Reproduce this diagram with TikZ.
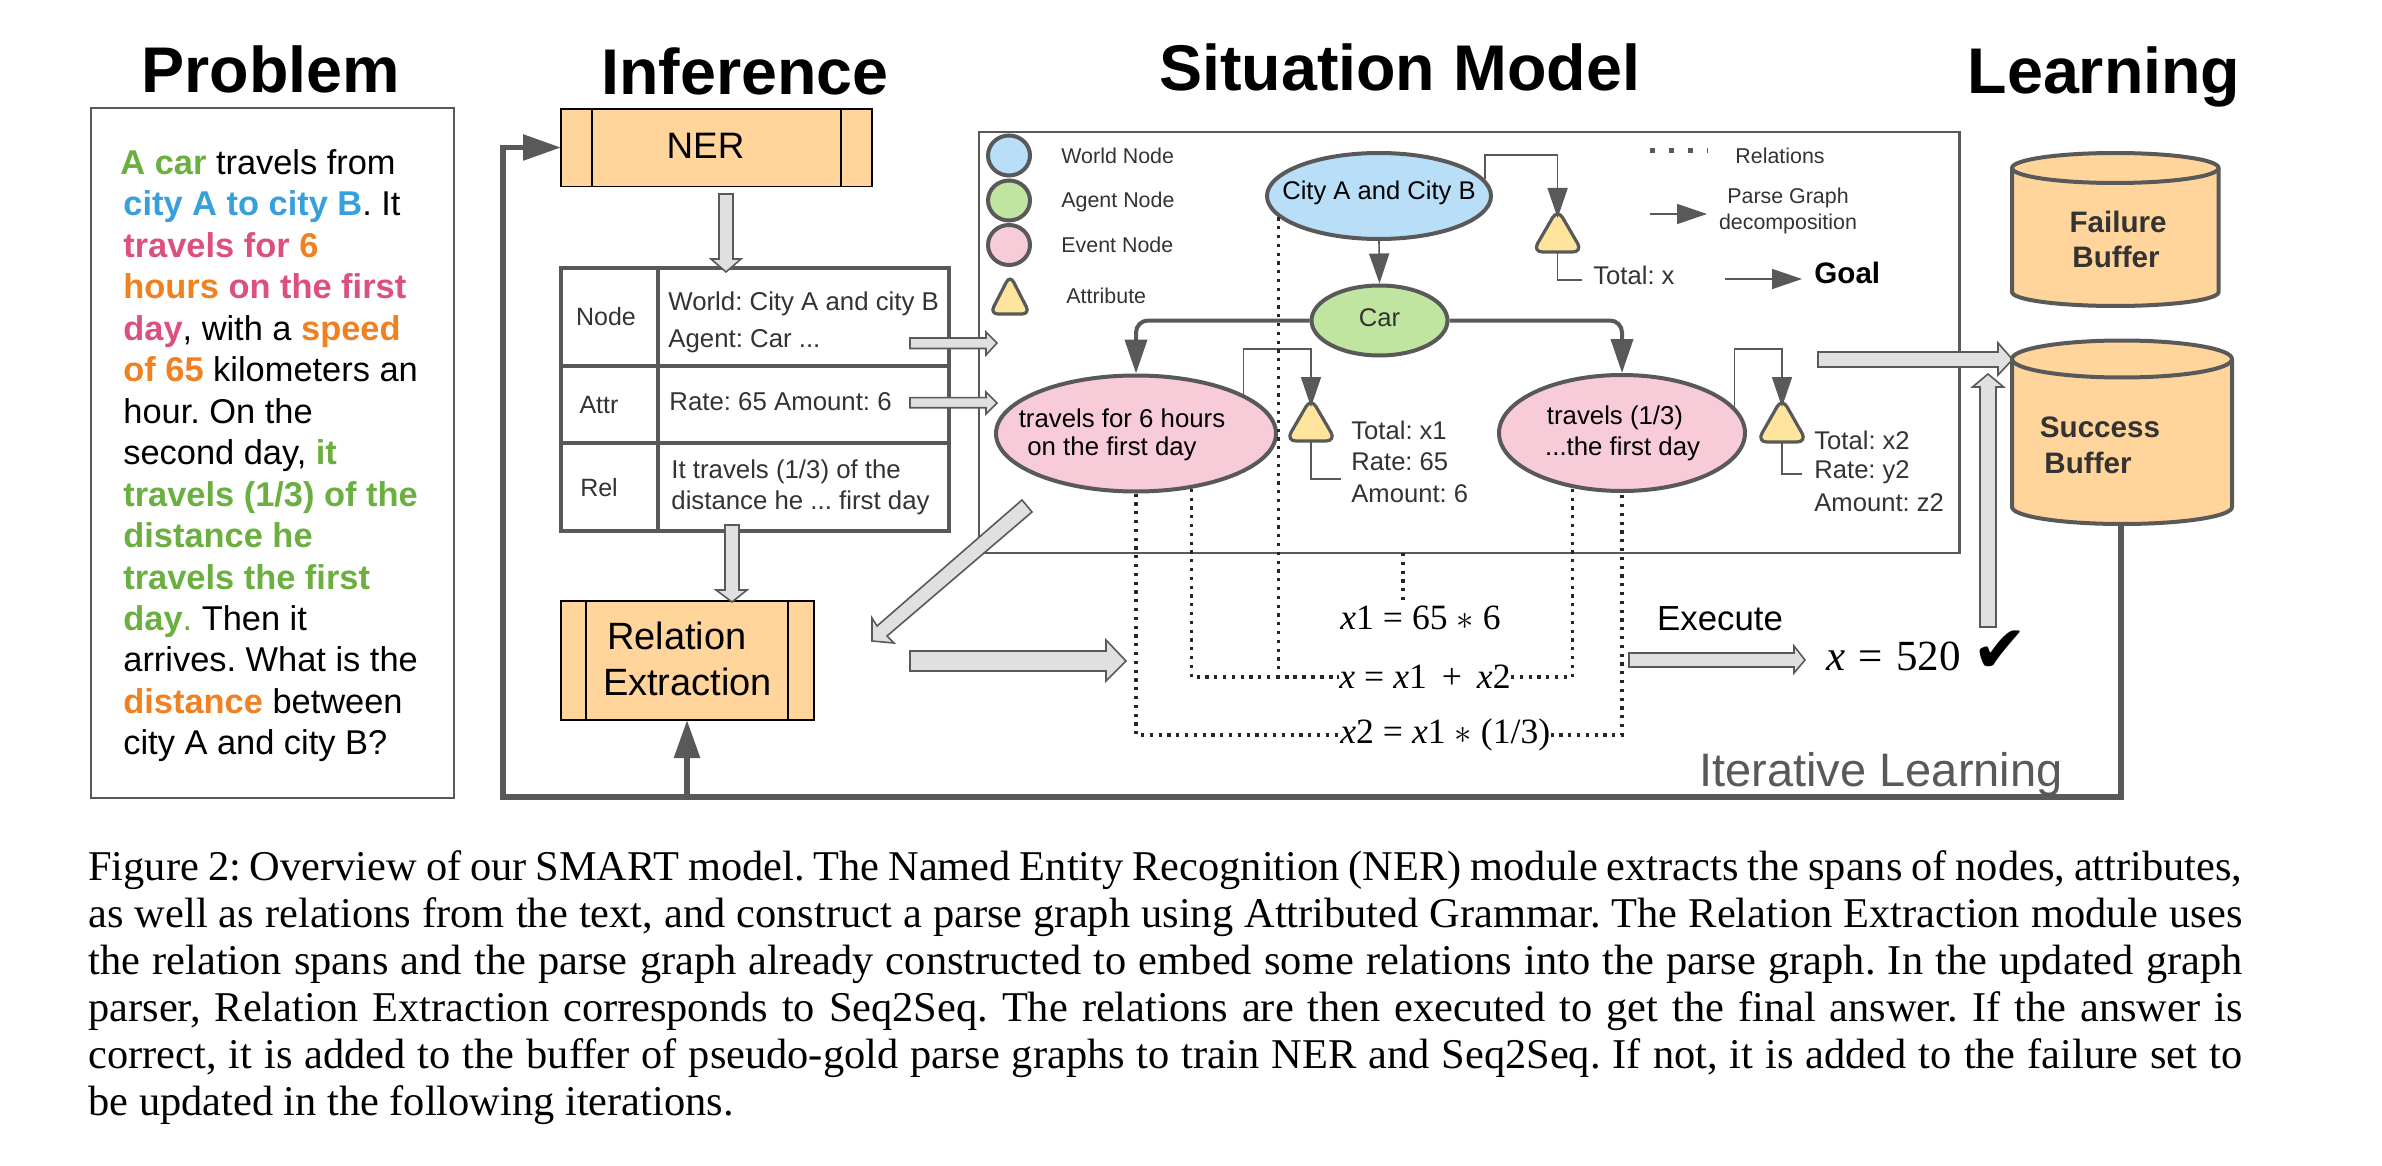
\documentclass[tikz,border=0pt]{standalone}
\usepackage{fontspec}
\setmainfont{Liberation Serif}
\newfontfamily\ars{Liberation Sans}
\newfontfamily\djv{DejaVu Sans}
\usetikzlibrary{arrows.meta,shapes.geometric,calc}
\definecolor{ln}{HTML}{595959}
\definecolor{txd}{HTML}{333333}
\definecolor{orfill}{HTML}{FFD59B}
\definecolor{blfill}{HTML}{B8DFF7}
\definecolor{grfill}{HTML}{C0E5A0}
\definecolor{pkfill}{HTML}{F8CBD9}
\definecolor{yefill}{HTML}{FFE49E}
\definecolor{blockg}{HTML}{E0E0E0}
\definecolor{pgreen}{HTML}{6AAF3F}
\definecolor{pblue}{HTML}{37A0DC}
\definecolor{ppink}{HTML}{DC5080}
\definecolor{porange}{HTML}{F08020}
\newcommand{\fs}[1]{\fontsize{#1}{#1}\selectfont\frenchspacing}
\newcommand{\gb}[1]{\textcolor{pgreen}{\bfseries #1}}
\newcommand{\bb}[1]{\textcolor{pblue}{\bfseries #1}}
\newcommand{\pb}[1]{\textcolor{ppink}{\bfseries #1}}
\newcommand{\ob}[1]{\textcolor{porange}{\bfseries #1}}
\newcommand{\capline}[1]{\hbox to 1077pt{#1}}
\newcommand{\ix}{\textit{x}}
\newcommand{\ea}{\hspace{4.5pt}=\hspace{4.5pt}}
\newcommand{\st}{\hspace{4.5pt}$\ast$\hspace{4.5pt}}
\newcommand{\pl}{\hspace{7.5pt}+\hspace{7.5pt}}
\newcommand{\attrtri}[4]{% name, cx, top, bottom
  \coordinate (#1top) at (#2,#3);
  \coordinate (#1bot) at (#2,#4);
  \draw[tribox] (#2,#3-9) -- (#2+25,#4) -- (#2-25,#4) -- cycle;}
\tikzset{
  x=0.5pt,y=-0.5pt,
  title/.style={font=\ars\bfseries\fs{32.3},anchor=center,inner sep=0pt,text=black},
  ptext/.style={font=\ars\fs{17.2},anchor=base west,inner sep=0pt,text=black},
  lab/.style={font=\ars\fs{#1},inner sep=0pt,text=txd},
  lab/.default=12.8,
  llab/.style={lab=10.7,anchor=west},
  attrlab/.style={lab=12.8,anchor=west},
  module/.style={draw=black,line width=0.9pt,fill=orfill},
  grid/.style={draw=ln,line width=2pt},
  tribox/.style={draw=ln,line width=1.6pt,fill=yefill,rounded corners=5pt},
  nodeoval/.style={ellipse,draw=ln,line width=2pt,inner sep=0pt},
  thinarrow/.style={draw=ln,line width=0.8pt,-{Triangle[width=10pt,length=15pt,fill=ln]}},
  thickarrow/.style={draw=ln,line width=2pt,rounded corners=6pt,-{Triangle[width=11pt,length=17pt,fill=ln]}},
  loop/.style={draw=ln,line width=2.8pt,-{Triangle[width=12.5pt,length=19pt,fill=ln]}},
  plainline/.style={draw=ln,line width=0.8pt},
  relation/.style={draw=black!85,line width=1.6pt,dash pattern=on 1.6pt off 2.8pt},
  blockar/.style={draw=ln,line width=0.8pt,fill=blockg,line join=miter},
  bufbox/.style={draw=ln,line width=2pt,fill=orfill,line join=round},
  bufline/.style={draw=ln,line width=2pt},
  eq/.style={font=\fs{17.8},inner sep=0pt,text=black},
}
\begin{document}
\begin{tikzpicture}
\useasboundingbox (0,0) rectangle (2382,1166);
\fill[white] (0,0) rectangle (2382,1166);
% titles
\node[title] (tp) at (271,69) {Problem};
\node[title] (ti) at (745,71) {Inference};
\node[title] (ts) at (1399.5,67.5) {Situation Model};
\node[title] (tl) at (2104,77) {Learning};
% problem
\draw[draw=ln,line width=0.9pt] (91,108) rectangle (454,798);
\node[ptext] (p1) at (120,174.5) {\gb{A car} travels from};
\node[ptext] (p2) at (123,215.95) {\bb{city A to city B}. It};
\node[ptext] (p3) at (123,257.4) {\pb{travels for} \ob{6}};
\node[ptext] (p4) at (123,298.85) {\ob{hours} \pb{on the first}};
\node[ptext] (p5) at (123,340.3) {\pb{day}, with a \ob{speed}};
\node[ptext] (p6) at (123,381.75) {\ob{of 65} kilometers an};
\node[ptext] (p7) at (123,423.2) {hour. On the};
\node[ptext] (p8) at (123,464.65) {second day, \gb{it}};
\node[ptext] (p9) at (123,506.1) {\gb{travels (1/3) of the}};
\node[ptext] (p10) at (123,547.55) {\gb{distance he}};
\node[ptext] (p11) at (123,589) {\gb{travels the first}};
\node[ptext] (p12) at (123,630.45) {\gb{day}\textcolor{pgreen}{.} Then it};
\node[ptext] (p13) at (123,671.9) {arrives. What is the};
\node[ptext] (p14) at (123,713.35) {\ob{distance} between};
\node[ptext] (p15) at (123,754.8) {city A and city B?};
% situation box
\draw[draw=ln,line width=1.1pt] (979,132) rectangle (1959.5,553);
% NER
\draw[module] (561,109) rectangle (872,186.5);
\draw[module] (592,109) -- (592,186.5) (841,109) -- (841,186.5);
\node[lab=18.4,text=black] (ner) at (705.5,146) {NER};
% table
\draw[grid] (561,268) rectangle (949,531);
\draw[grid] (561,365.5) -- (949,365.5) (561,442.6) -- (949,442.6) (658,268) -- (658,531);
\node[lab=12.5] (tn) at (606,317) {Node};
\node[lab=12.5] (ta) at (599,405) {Attr};
\node[lab=12.5] (tr) at (599,488) {Rel};
\node[lab=12.9,anchor=west] (t1) at (668,303.5) {World: City A and city B};
\node[lab=12.9,anchor=west] (t2) at (668,341) {Agent: Car ...};
\node[lab=12.9,anchor=west] (t3) at (669,402) {Rate: 65 Amount: 6};
\node[lab=12.9,anchor=west] (t4) at (671,472) {It travels (1/3) of the};
\node[lab=12.9,anchor=west] (t5) at (671,503) {distance he ... first day};
% relation extraction
\draw[module] (561,601) rectangle (814,720);
\draw[module] (586,601) -- (586,720) (788,601) -- (788,720);
\node[lab=19,text=black] (re1) at (677,636) {Relation};
\node[lab=19,text=black] (re2) at (687.5,682) {Extraction};
% block arrows
\draw[blockar] (719,194) -- (733,194) -- (733,259) -- (741,259) -- (726,272) -- (711,259) -- (719,259) -- cycle;
\draw[blockar] (725,525) -- (739,525) -- (739,590) -- (747,590) -- (732,602) -- (716,590) -- (725,590) -- cycle;
\draw[blockar] (910,338) -- (986,338) -- (986,332) -- (997,343) -- (986,355) -- (986,348.5) -- (910,348.5) -- cycle;
\draw[blockar] (910,397.6) -- (986,397.6) -- (986,392) -- (997,403) -- (986,414) -- (986,407.7) -- (910,407.7) -- cycle;
\draw[blockar] (1022,500) -- (1032,512) -- (887,636) -- (894,643) -- (872,641) -- (872,618) -- (877,626) -- cycle;
\draw[blockar] (910,651) -- (1106,651) -- (1106,640) -- (1126,661) -- (1106,681) -- (1106,671) -- (910,671) -- cycle;
\draw[blockar] (1629,653) -- (1794,653) -- (1794,646) -- (1805,660) -- (1794,673) -- (1794,667) -- (1629,667) -- cycle;
\draw[blockar] (1818,352) -- (1998,352) -- (1998,343) -- (2012.5,359.5) -- (1998,375) -- (1998,367) -- (1818,367) -- cycle;
\draw[blockar] (1980,627) -- (1980,387) -- (1972.5,387) -- (1988,374) -- (2003.6,387) -- (1996,387) -- (1996,627) -- cycle;
% legend
\node[nodeoval,fill=blfill,minimum width=21pt,minimum height=20pt] (lw) at (1009,155.5) {};
\node[nodeoval,fill=grfill,minimum width=21pt,minimum height=20pt] (la) at (1009,200.5) {};
\node[nodeoval,fill=pkfill,minimum width=21pt,minimum height=20pt] (le) at (1009,245) {};
\begin{scope}[tribox/.append style={rounded corners=4pt}]
\draw[tribox] (1010,275) -- (1030,314) -- (990,314) -- cycle;
\end{scope}
\node[llab] (lwt) at (1061,156) {World Node};
\node[llab] (lat) at (1061,202) {Agent Node};
\node[llab] (let) at (1061,245) {Event Node};
\node[llab] (ltt) at (1066,296) {Attribute};
\coordinate (rs) at (1650,151);
\coordinate (re) at (1708,151);
\draw[draw=ln,line width=2.5pt,dash pattern=on 2.5pt off 7pt] (rs) -- (re);
\node[llab] (rt) at (1735,156) {Relations};
\coordinate (pa) at (1650,214);
\coordinate (pb) at (1707,214);
\draw[thinarrow] (pa) -- (pb);
\node[lab=10.7] (pg1) at (1788,198) {Parse Graph};
\node[lab=10.7] (pg2) at (1788,224) {decomposition};
\coordinate (ga) at (1725,279);
\coordinate (gb) at (1802,279);
\draw[thinarrow] (ga) -- (gb);
\node[font=\ars\bfseries\fs{14.8},inner sep=0pt,anchor=west,text=black] (goal) at (1814,273) {Goal};
% graph nodes
\node[nodeoval,fill=blfill,minimum width=112pt,minimum height=43pt] (city) at (1379,196) {};
\node[lab=12.8,text=black] (cityt) at (1379,193) {City A and City B};
\node[nodeoval,fill=grfill,minimum width=68pt,minimum height=35pt] (car) at (1379.5,320.5) {};
\node[lab=12.8,text=black!80] (cart) at (1379.5,318) {Car};
\node[nodeoval,fill=pkfill,minimum width=140pt,minimum height=58pt] (ev1) at (1136,433.5) {};
\node[lab=12.9,text=black] (ev1a) at (1122,418) {travels for 6 hours};
\node[lab=12.9,text=black] (ev1b) at (1112,449) {on the first day};
\node[nodeoval,fill=pkfill,minimum width=123pt,minimum height=58pt] (ev2) at (1622,433) {};
\node[lab=12.9,text=black] (ev2a) at (1615,418) {travels (1/3)};
\node[lab=12.9,text=black] (ev2b) at (1622.6,449) {...the first day};
% attributes
\attrtri{ta}{1557.6}{218}{252}
\attrtri{tb}{1311}{407}{441}
\attrtri{tc}{1782}{407}{442}
\coordinate (cu) at (1557.6,155);
\coordinate (eu) at (1311,349);
\coordinate (fu) at (1782,349);
\coordinate (tx) at (1582,280);
\coordinate (ty) at (1341,479);
\coordinate (tz) at (1802,474);
\draw[thinarrow] (city.9) |- (cu) -- (tatop);
\draw[thinarrow] (ev1.20.7) |- (eu) -- (tbtop);
\draw[thinarrow] (ev2.13) |- (fu) -- (tctop);
\draw[plainline] (tabot) |- (tx);
\draw[plainline] (tbbot) |- (ty);
\draw[plainline] (tcbot) |- (tz);
\draw[thinarrow] (city.south) -- (car.north);
\draw[thickarrow] (car.west) -| (ev1.north);
\draw[thickarrow] (car.east) -| (ev2.north);
\node[attrlab] (ax) at (1593,275) {Total: x};
\node[attrlab] (b1) at (1351,430.5) {Total: x1};
\node[attrlab] (b2) at (1351,462) {Rate: 65};
\node[attrlab] (b3) at (1351,493.5) {Amount: 6};
\node[attrlab] (c1) at (1814,440) {Total: x2};
\node[attrlab] (c2) at (1814,472) {Rate: y2};
\node[attrlab] (c3) at (1814,503) {Amount: z2};
% equations
\node[eq,anchor=west] (eqa) at (1340,618) {\ix1\ea65\st6};
\node[eq,anchor=west] (eqb) at (1339,677) {\ix\ea\ix1\pl\ix2};
\node[eq,anchor=west] (eqc) at (1340,735) {\ix2\ea\ix1\st(1/3)};
\coordinate (sb) at (1403,553);
\draw[relation] (sb) -- (sb |- eqa.north);
\draw[relation] (ev1.south) |- (eqc.west);
\draw[relation] (eqc.east) -| (ev2.south);
\draw[relation] (ev1.-45.4) |- (eqb.west);
\draw[relation] (city.192) |- (eqb.west);
\draw[relation] (eqb.east) -| (ev2.228.7);
% execute
\node[lab=17.4,text=black] (ex) at (1720,619) {Execute};
\node[font=\fs{21.5},inner sep=0pt,anchor=west,text=black] (ans) at (1826,656) {\ix\hspace{6.6pt}=\hspace{6.6pt}520};
\node[font=\djv\fs{33},inner sep=0pt,text=black] (chk) at (2000,652) {✔};
\node[lab=23.5,text=ln] (il) at (1881,774) {Iterative Learning};
% buffers
\draw[bufbox] (2012,168) arc[start angle=180,end angle=0,x radius=51.65pt,y radius=7.5pt] -- (2218.6,292) arc[start angle=0,end angle=-180,x radius=51.65pt,y radius=7pt] -- cycle;
\draw[bufline] (2012,168) arc[start angle=180,end angle=360,x radius=51.65pt,y radius=7.5pt];
\draw[bufbox] (2012,359) arc[start angle=180,end angle=0,x radius=55pt,y radius=9.25pt] -- (2232,507) arc[start angle=0,end angle=-180,x radius=55pt,y radius=8.5pt] -- cycle;
\draw[bufline] (2012,359) arc[start angle=180,end angle=360,x radius=55pt,y radius=9.25pt];
\node[font=\ars\bfseries\fs{14.8},inner sep=0pt,text=txd] (f1) at (2118,222) {Failure};
\node[font=\ars\bfseries\fs{14.8},inner sep=0pt,text=txd] (f2) at (2116,257) {Buffer};
\node[font=\ars\bfseries\fs{14.8},inner sep=0pt,text=txd] (s1) at (2100,427) {Success};
\node[font=\ars\bfseries\fs{14.8},inner sep=0pt,text=txd] (s2) at (2088,463) {Buffer};
% loop
\coordinate (lbs) at (2121,526);
\coordinate (lb) at (2121,797);
\coordinate (ll) at (503,797);
\coordinate (lt) at (503,147.5);
\coordinate (lre) at (687,797);
\coordinate (nerw) at (561,147.5);
\coordinate (ree) at (687,720);
\draw[loop] (lbs) -- (lb) -- (ll) -- (lt) -- (nerw);
\draw[loop] (lre) -- (ree);
% caption
\node[anchor=north west,inner sep=0pt,font=\fs{21.2},text=black] (cap) at (88,850) {\vbox{\baselineskip=23.5pt\hsize=1077pt
\capline{Figure 2: Overview of our SMART model. The Named Entity Recognition (NER) module extracts the spans of nodes, attributes,}
\capline{as well as relations from the text, and construct a parse graph using Attributed Grammar. The Relation Extraction module uses}
\capline{the relation spans and the parse graph already constructed to embed some relations into the parse graph. In the updated graph}
\capline{parser, Relation Extraction corresponds to Seq2Seq. The relations are then executed to get the final answer. If the answer is}
\capline{correct, it is added to the buffer of pseudo-gold parse graphs to train NER and Seq2Seq. If not, it is added to the failure set to}
\hbox{be updated in the following iterations.}}};
\end{tikzpicture}
\end{document}
